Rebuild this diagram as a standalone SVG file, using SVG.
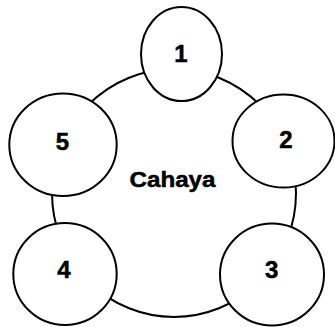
<svg xmlns="http://www.w3.org/2000/svg" width="335" height="327" viewBox="0 0 335 327">
  <style>
    .ring { fill: #ffffff; stroke: #000000; stroke-width: 2; }
    .lbl { font-family: "Liberation Sans", Arial, sans-serif; font-weight: bold; fill: #000000; stroke: #000000; stroke-width: 0.5; text-anchor: middle; }
    .num { font-size: 24px; }
    .hub { font-size: 22px; }
  </style>
  <rect width="335" height="327" fill="#ffffff"/>
  <!-- central ring that links the five nodes -->
  <g id="connectors">
    <ellipse class="ring" cx="174" cy="193" rx="122" ry="124" fill="none"/>
  </g>
  <g id="center">
    <text class="lbl hub" x="172.5" y="187" textLength="86" lengthAdjust="spacingAndGlyphs">Cahaya</text>
  </g>
  <g id="node1">
    <ellipse class="ring" cx="181.5" cy="54" rx="40.5" ry="47"/>
    <text class="lbl num" x="181" y="61.5">1</text>
  </g>
  <g id="node2">
    <ellipse class="ring" cx="283.5" cy="141" rx="51" ry="46.5"/>
    <text class="lbl num" x="286" y="148">2</text>
  </g>
  <g id="node3">
    <ellipse class="ring" cx="272" cy="274.5" rx="52" ry="51"/>
    <text class="lbl num" x="271.7" y="277.5">3</text>
  </g>
  <g id="node4">
    <ellipse class="ring" cx="65" cy="274" rx="51.7" ry="51"/>
    <text class="lbl num" x="64" y="277.5">4</text>
  </g>
  <g id="node5">
    <ellipse class="ring" cx="63" cy="144.7" rx="53.7" ry="51.3"/>
    <text class="lbl num" x="62.5" y="150">5</text>
  </g>
</svg>
